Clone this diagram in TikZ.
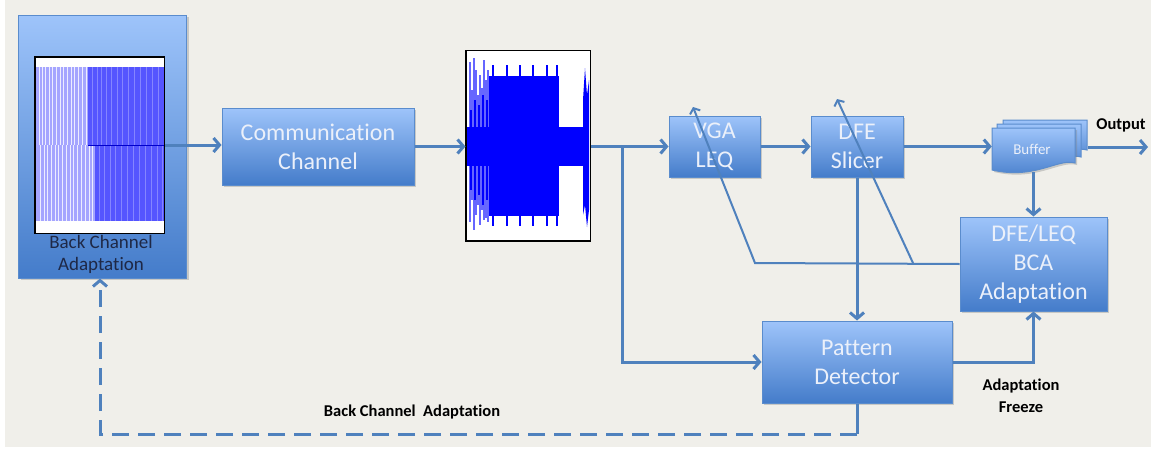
\documentclass[tikz,border=0pt]{standalone}
\usepackage{fontspec}
\setmainfont{Carlito}[Ligatures=NoCommon]
\usetikzlibrary{arrows.meta,shadows}
\definecolor{bg}{RGB}{240,239,234}
\definecolor{ln}{RGB}{79,129,189}
\definecolor{btop}{RGB}{158,196,250}
\definecolor{bbot}{RGB}{68,124,202}
\definecolor{bbrd}{RGB}{90,140,205}
\definecolor{btxt}{RGB}{235,240,250}
\definecolor{dtxt}{RGB}{30,40,70}
\definecolor{wblue}{RGB}{0,0,255}
\definecolor{lstripe}{RGB}{165,165,255}
\definecolor{dstripe}{RGB}{85,85,255}
\tikzset{
  blk/.style={draw=bbrd, line width=1pt, top color=btop, bottom color=bbot, text=btxt,
    font=\fontsize{24}{29}\selectfont, align=center, inner sep=0pt,
    drop shadow={shadow xshift=2pt,shadow yshift=-2pt,opacity=0.35}},
  conn/.style={draw=ln, line width=3pt},
  arr/.style={conn, -{Straight Barb[length=6pt,width=14pt]}},
  fb/.style={draw=ln, line width=2pt, -{Straight Barb[length=4.5pt,width=11pt]}},
  lbl/.style={font=\bfseries\fontsize{16.5}{22}\selectfont, text=black, align=center},
  doc/.style={draw=bbrd, line width=1pt, top color=btop, bottom color=bbot}
}
\begin{document}
\begin{tikzpicture}[x=1pt,y=-1pt]
\useasboundingbox (0,0) rectangle (1151,450);
\fill[white] (0,0) rectangle (1151,450);
\fill[bg] (5,0) rectangle (1151,447);

% left box
\node[blk, minimum width=168pt, minimum height=263pt] (bca) at (102.5,146.5) {};
\node[text=dtxt, font=\fontsize{19}{22}\selectfont, align=center] (bcatxt) at (101,254) {Back Channel\\Adaptation};
\node[draw=black, line width=1pt, fill=white, minimum width=129pt, minimum height=176pt, inner sep=0pt] (bcaimg) at (99.5,145) {};
\fill[lstripe] (36,67) rectangle (88,145);
\fill[dstripe] (88,67) rectangle (164,145);
\fill[lstripe] (36,145) rectangle (95,221);
\fill[dstripe] (95,145) rectangle (164,221);
\foreach \x in {39,42.5,45,49,52,56,60,63,67,71,74,78,82,86}
  \draw[white, line width=0.8pt, opacity=0.8] (\x,67) -- (\x,145);
\foreach \x in {40,44,47,51,55,58,62,66,70,73,77,81,85,89,92}
  \draw[white, line width=0.8pt, opacity=0.8] (\x,145) -- (\x,221);
\foreach \x in {92,97,101,106,111,117,122,128,134,140,146,152,158}
  \draw[lstripe, line width=0.6pt, opacity=0.6] (\x,67) -- (\x,145);
\foreach \x in {99,104,110,115,121,127,133,139,145,151,157,162}
  \draw[lstripe, line width=0.6pt, opacity=0.6] (\x,145) -- (\x,221);
\draw[wblue!80!black, line width=1pt] (88,145) -- (164,145);
\draw[black, line width=1pt] (bcaimg.south west) rectangle (bcaimg.north east);

% communication channel
\node[blk, minimum width=192pt, minimum height=77pt] (cc) at (318,146.5) {Communication\\Channel};

% waveform
\node[draw=black, line width=1pt, fill=white, minimum width=124pt, minimum height=190pt, inner sep=0pt] (wave) at (528,145.5) {};
\fill[wblue] (467,127) rectangle (589,166);
\fill[wblue] (489,76) rectangle (559,216);
\foreach \x in {493,507,520,533,547,557}{
  \fill[wblue] (\x-1,65) rectangle (\x+1,77);
  \fill[wblue] (\x-1,215) rectangle (\x+1,226);
}
\foreach \x/\t/\b in {470/62/222,472/90/200,474/58/230,476/70/215,478/95/205,480/75/225,482/88/210,484/60/220,486/80/218,488/70/222}
  \draw[wblue, line width=1.6pt, opacity=0.6] (\x,\t) -- (\x,\b);
\foreach \x/\t/\b in {471/110/190,475/100/200,479/105/195,483/95/205,487/100/200}
  \draw[wblue, line width=1.6pt] (\x,\t) -- (\x,\b);
\fill[wblue] (583,100) -- (585,68) -- (587,95) -- (589,80) -- (589,210) -- (587,227) -- (585,205) -- (583,215) -- cycle;
\draw[black, line width=1pt] (wave.south west) rectangle (wave.north east);

% VGA / DFE slicer
\node[blk, minimum width=91pt, minimum height=61pt] (vga) at (714.5,146.5) {VGA\\LEQ};
\node[blk, minimum width=92pt, minimum height=61pt] (sl) at (857,146.5) {DFE\\Slicer};

% buffer (multi-document)
\node[minimum width=96pt, minimum height=52pt, inner sep=0pt] (buf) at (1040,146) {};
\draw[doc] (1003,120) -- (1087,120) -- (1087,150) .. controls (1070,145) and (1050,165) .. (1003,158) -- cycle;
\draw[doc] (997,124) -- (1081,124) -- (1081,157) .. controls (1064,152) and (1044,172) .. (997,165) -- cycle;
\draw[doc, drop shadow={shadow xshift=2pt,shadow yshift=-2pt,opacity=0.35}] (992,128) -- (1075,128) -- (1075,163) .. controls (1058,158) and (1035,180) .. (992,170) -- cycle;
\node[text=btxt, font=\fontsize{15}{16}\selectfont] (buftxt) at (1032,149) {Buffer};

% DFE/LEQ and pattern detector
\node[blk, minimum width=147pt, minimum height=94pt] (dfe) at (1033.5,264) {DFE/LEQ\\BCA\\Adaptation};
\node[blk, minimum width=190pt, minimum height=82pt] (pd) at (857,362) {Pattern\\Detector};

% connectors
\coordinate (out) at (1148,147);
\coordinate (br) at (622,146);
\coordinate (fbA) at (755,263);
\coordinate (tipA) at (693,107);
\coordinate (fbB) at (913,263);
\coordinate (tipB) at (837,99);
\coordinate (dc) at (857,434);
\coordinate (dl) at (100,434);

\draw[arr] (bcaimg.east) -- (bcaimg.east -| cc.west);
\draw[arr] (cc.east) -- (cc.east -| wave.west);
\draw[arr] (wave.east |- vga.west) -- (vga.west);
\draw[arr] (br) |- (pd.west);
\draw[arr] (vga.east) -- (sl.west);
\draw[arr] (sl.east) -- (sl.east -| buf.west);
\draw[arr] (buf.east |- out) -- (out);
\draw[arr] (buf.south -| dfe.north) -- (dfe.north);
\draw[arr] (sl.south) -- (pd.north);
\draw[arr] (pd.east) -| (dfe.south);
\draw[fb] (dfe.west) -- (fbA) -- (tipA);
\draw[fb] (fbB) -- (tipB);
\draw[conn] (pd.south) -- (dc);
\draw[arr, dash pattern=on 17pt off 9pt] (dc) -- (dl) -- (dl |- bca.south);

% labels
\node[lbl] (lout) at (1121,125) {Output};
\node[lbl] (lfrz) at (1021,396) {Adaptation\\Freeze};
\node[lbl] (lbca) at (412,412) {Back Channel\ \ Adaptation};
\end{tikzpicture}
\end{document}
